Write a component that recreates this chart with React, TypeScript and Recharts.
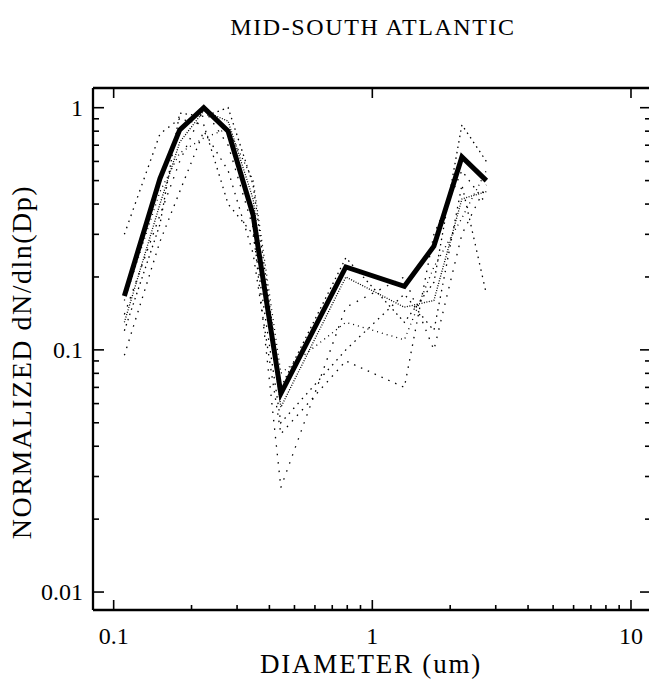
import React from "react";
import { LineChart, Line, XAxis, YAxis } from "recharts";

// particle diameters (um) for each size bin
const DIAMETER = [0.11, 0.151, 0.18, 0.223, 0.277, 0.346, 0.443, 0.79, 1.33, 1.73, 2.22, 2.76];

// mean normalized spectrum (thick line)
const MEAN = [0.167, 0.51, 0.81, 1.0, 0.8, 0.36, 0.066, 0.22, 0.183, 0.268, 0.626, 0.5];

// individual spectra (dotted)
const RUN_A = [0.13, 0.4, 0.72, 0.97, 0.88, 0.42, 0.058, 0.2, 0.15, 0.16, 0.42, 0.45];
const RUN_B = [0.12, 0.33, 0.95, 0.92, 1.0, 0.48, 0.07, 0.24, 0.13, 0.19, 0.85, 0.6];
const RUN_C = [0.3, 0.78, 0.9, 0.85, 0.4, 0.3, 0.05, 0.1, 0.17, 0.12, 0.48, 0.17];
const RUN_D = [0.095, 0.28, 0.45, 0.8, 0.55, 0.25, 0.045, 0.09, 0.07, 0.3, 0.55, 0.4];
const RUN_E = [0.16, 0.45, 0.65, 0.75, 0.82, 0.5, 0.08, 0.13, 0.11, 0.22, 0.35, 0.55];
const RUN_F = [0.14, 0.36, 0.6, 0.99, 0.7, 0.32, 0.027, 0.15, 0.2, 0.1, 0.3, 0.48];

const RUNS = [RUN_A, RUN_B, RUN_C, RUN_D, RUN_E, RUN_F];
const DASHES = ["1 1.5", "1.5 4", "1.5 5", "1.5 6", "1 4", "1.5 7"];

const X_MAJOR = [0.1, 1, 10];
const X_MINOR = [0.2, 0.3, 0.4, 0.5, 0.6, 0.7, 0.8, 0.9, 2, 3, 4, 5, 6, 7, 8, 9];
const Y_MAJOR = [0.01, 0.1, 1];
const Y_MINOR = [
  0.02, 0.03, 0.04, 0.05, 0.06, 0.07, 0.08, 0.09,
  0.2, 0.3, 0.4, 0.5, 0.6, 0.7, 0.8, 0.9,
];

const X_DOMAIN = [0.0832, 11.95];
const Y_DOMAIN = [0.00843, 1.206];

const FONT = '"Liberation Serif", "Times New Roman", serif';

const data = DIAMETER.map((d, i) => {
  const row: Record<string, number> = { d, mean: MEAN[i] };
  RUNS.forEach((r, k) => (row[`run${k}`] = r[i]));
  return row;
});

const sortNum = (a: number[]) => [...a].sort((p, q) => p - q);

const BottomTick = (props: any) => {
  const { x, y, payload } = props;
  const major = X_MAJOR.includes(payload.value);
  return (
    <g>
      <line x1={x} x2={x} y1={y} y2={y - (major ? 10 : 5)} stroke="#000" strokeWidth={1.6} />
      {major && (
        <text x={x} y={y + 34} textAnchor="middle" fontFamily={FONT} fontSize={24} fill="#000">
          {payload.value}
        </text>
      )}
    </g>
  );
};

const TopTick = (props: any) => {
  const { x, y } = props;
  return <line x1={x} x2={x} y1={y} y2={y + 10} stroke="#000" strokeWidth={1.6} />;
};

const LeftTick = (props: any) => {
  const { x, y, payload } = props;
  const major = Y_MAJOR.includes(payload.value);
  return (
    <g>
      <line x1={x} x2={x + (major ? 11 : 6)} y1={y} y2={y} stroke="#000" strokeWidth={1.6} />
      {major && (
        <text x={x - 10} y={y + 8} textAnchor="end" fontFamily={FONT} fontSize={24} fill="#000">
          {payload.value}
        </text>
      )}
    </g>
  );
};

const RightTick = (props: any) => {
  const { x, y, payload } = props;
  const major = Y_MAJOR.includes(payload.value);
  return <line x1={x} x2={x - (major ? 11 : 6)} y1={y} y2={y} stroke="#000" strokeWidth={1.6} />;
};

const axisLine = { stroke: "#000", strokeWidth: 2.3 };

export default function App() {
  return (
    <div
      style={{
        position: "absolute",
        left: 0,
        top: 0,
        width: 649,
        height: 679,
        overflow: "hidden",
        background: "#fff",
        fontFamily: FONT,
      }}
    >
      <LineChart
        width={660}
        height={679}
        data={data}
        margin={{ top: 87, right: 8, bottom: 68, left: 92 }}
      >
        <XAxis
          xAxisId="b"
          dataKey="d"
          type="number"
          scale="log"
          domain={X_DOMAIN}
          allowDataOverflow
          ticks={sortNum([...X_MAJOR, ...X_MINOR])}
          interval={0}
          height={1}
          tickSize={0}
          tickMargin={0}
          tickLine={false}
          axisLine={axisLine}
          tick={BottomTick}
        />
        <XAxis
          xAxisId="t"
          orientation="top"
          dataKey="d"
          type="number"
          scale="log"
          domain={X_DOMAIN}
          allowDataOverflow
          ticks={X_MAJOR}
          interval={0}
          height={1}
          tickSize={0}
          tickMargin={0}
          tickLine={false}
          axisLine={axisLine}
          tick={TopTick}
        />
        <YAxis
          yAxisId="l"
          type="number"
          scale="log"
          domain={Y_DOMAIN}
          allowDataOverflow
          ticks={sortNum([...Y_MAJOR, ...Y_MINOR])}
          interval={0}
          width={1}
          tickSize={0}
          tickMargin={0}
          tickLine={false}
          axisLine={axisLine}
          tick={LeftTick}
        />
        <YAxis
          yAxisId="r"
          orientation="right"
          type="number"
          scale="log"
          domain={Y_DOMAIN}
          allowDataOverflow
          ticks={sortNum([...Y_MAJOR, ...Y_MINOR])}
          interval={0}
          width={1}
          tickSize={0}
          tickMargin={0}
          tickLine={false}
          axisLine={axisLine}
          tick={RightTick}
        />
        {RUNS.map((_, k) => (
          <Line
            key={k}
            xAxisId="b"
            yAxisId="l"
            dataKey={`run${k}`}
            type="linear"
            stroke="#000"
            strokeWidth={1.3}
            strokeDasharray={DASHES[k]}
            dot={false}
            activeDot={false}
            isAnimationActive={false}
          />
        ))}
        <Line
          xAxisId="b"
          yAxisId="l"
          dataKey="mean"
          type="linear"
          stroke="#000"
          strokeWidth={5}
          strokeLinejoin="miter"
          dot={false}
          activeDot={false}
          isAnimationActive={false}
        />
      </LineChart>
      <div
        style={{
          position: "absolute",
          left: 373,
          top: 27,
          transform: "translate(-50%, -50%)",
          fontSize: 24,
          letterSpacing: 1.6,
          whiteSpace: "nowrap",
        }}
      >
        MID-SOUTH ATLANTIC
      </div>
      <div
        style={{
          position: "absolute",
          left: 371,
          top: 664,
          transform: "translate(-50%, -50%)",
          fontSize: 27,
          letterSpacing: 1.8,
          whiteSpace: "nowrap",
        }}
      >
        DIAMETER (um)
      </div>
      <div
        style={{
          position: "absolute",
          left: 22,
          top: 362,
          transform: "translate(-50%, -50%) rotate(-90deg)",
          fontSize: 28,
          letterSpacing: 1.5,
          whiteSpace: "nowrap",
        }}
      >
        NORMALIZED dN/dln(Dp)
      </div>
    </div>
  );
}
